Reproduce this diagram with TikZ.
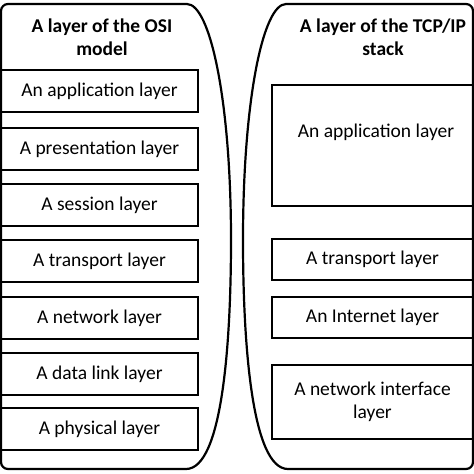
\documentclass[tikz,border=0pt]{standalone}
\usepackage{fontspec}
\setmainfont{Carlito}
\begin{document}
\begin{tikzpicture}[x=1pt,y=-1pt,
  every node/.style={font=\fontsize{19.5}{23}\selectfont, inner sep=0pt},
  osibox/.style={draw, line width=1.7pt, minimum width=197pt, minimum height=42pt},
  tcpbox/.style={draw, line width=1.7pt, minimum width=201pt},
  ttl/.style={font=\fontsize{19.5}{23}\selectfont\bfseries, align=center},
  lbl/.style={align=center}]
\useasboundingbox (0,0) rectangle (474,474);
% containers
\draw[line width=2.2pt, rounded corners=7pt]
  (186,469) -- (1,469) -- (1,4) -- (180,4) [sharp corners]
  .. controls (210,4) and (231,100) .. (231,240)
  .. controls (231,345) and (222,469) .. (186,469);
\draw[line width=2.2pt, rounded corners=7pt]
  (288,469) -- (473,469) -- (473,4) -- (293,4) [sharp corners]
  .. controls (263,4) and (243,100) .. (243,240)
  .. controls (243,345) and (252,469) .. (288,469);
% titles
\node[ttl] (t1) at (102,37.5) {A layer of the OSI\\model};
\node[ttl] (t2) at (383,37.5) {A layer of the TCP/IP\\stack};
% OSI boxes
\node[osibox] (o7) at (99.5,91)  {An application layer};
\node[osibox] (o6) at (99.5,149) {A presentation layer};
\node[osibox] (o5) at (99.5,205) {A session layer};
\node[osibox] (o4) at (99.5,261) {A transport layer};
\node[osibox] (o3) at (99.5,318) {A network layer};
\node[osibox] (o2) at (99.5,374) {A data link layer};
\node[osibox] (o1) at (99.5,429) {A physical layer};
% TCP/IP boxes
\node[tcpbox, minimum height=121pt] (p4) at (372.5,145.5) {};
\node[lbl] (p4t) at (376,132) {An application layer};
\node[tcpbox, minimum height=41pt] (p3) at (372.5,259.5) {A transport layer};
\node[tcpbox, minimum height=41pt] (p2) at (372.5,317.5) {An Internet layer};
\node[tcpbox, minimum height=74pt, lbl] (p1) at (372.5,402) {A network interface\\layer};
\end{tikzpicture}
\end{document}
